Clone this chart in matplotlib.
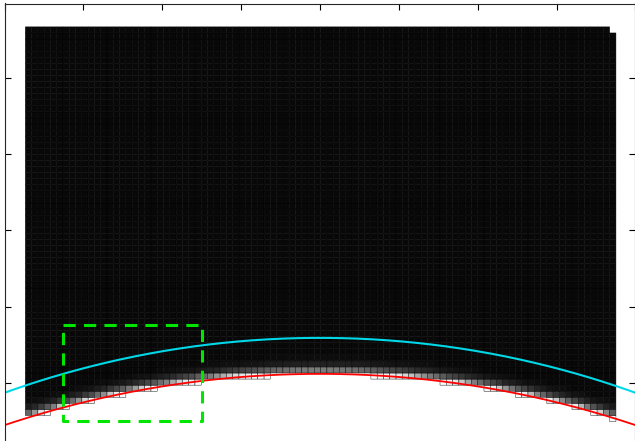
import numpy as np
import matplotlib
matplotlib.use("Agg")
import matplotlib.pyplot as plt

# axis ticks (no labels in the original)
x_ticks = [0, 12.5, 25, 37.5, 50, 62.5, 75, 87.5, 100]
y_ticks = [12.5, 25, 37.5, 50, 62.5]

# lattice extent and size
grid_x = [3.3, 96.9]
grid_y = [6.18, 70.87]
n_cols = 94
n_rows = 65

# wall (red) and upper (cyan) arcs: centre x, centre y, radius
red_arc = [50.0, -139.0, 153.0]
cyan_arc = [50.0, -123.5, 143.4]

# cell brightness vs height of cell centre above the red wall
prof_d = [-0.15, 0.2, 0.6, 1.0, 1.5, 2.0, 3.0]
prof_v = [1.0, 0.88, 0.5, 0.3, 0.15, 0.08, 0.035]
cutoff = -0.15

# zoom box (green dashed)
box_x = [9.3, 31.3]
box_y = [6.3, 22.0]


def arc_y(arc, x):
    cx, cy, r = arc
    return cy + np.sqrt(r ** 2 - (x - cx) ** 2)


fig = plt.figure(figsize=(6.35, 4.41), dpi=100)
ax = fig.add_axes([4.5 / 635, (441 - 459.3) / 441, 631 / 635, 455.8 / 441])

xe = np.linspace(grid_x[0], grid_x[1], n_cols + 1)
ye = np.linspace(grid_y[0], grid_y[1], n_rows + 1)
xc = (xe[:-1] + xe[1:]) / 2
yc = (ye[:-1] + ye[1:]) / 2
d = yc[:, None] - arc_y(red_arc, xc)[None, :]
vals = np.interp(d, prof_d, prof_v)
mask = d < cutoff
mask[-1, -1] = True  # notch at top right corner
ax.pcolor(xe, ye, np.ma.masked_where(mask, vals), cmap='gray',
          vmin=0, vmax=1, edgecolors='black', linewidth=0.3)

xs = np.linspace(-2, 102, 400)
ax.plot(xs, arc_y(cyan_arc, xs), color='#00d8e8', lw=1.5)
ax.plot(xs, arc_y(red_arc, xs), color='#ff0000', lw=1.3)

ax.plot([box_x[0], box_x[1], box_x[1], box_x[0], box_x[0]],
        [box_y[1], box_y[1], box_y[0], box_y[0], box_y[1]],
        color='#00e600', lw=2.2, linestyle=(0, (4, 2.7)))

ax.set_xlim(0, 100)
ax.set_ylim(0, 74.7)
ax.set_xticks(x_ticks)
ax.set_yticks(y_ticks)
ax.tick_params(direction='in', length=4, width=0.8, top=True, right=True,
               labelleft=False, labelbottom=False)
for s in ax.spines.values():
    s.set_linewidth(0.8)
    s.set_color('#262626')

fig.savefig('out.png', dpi=100)
